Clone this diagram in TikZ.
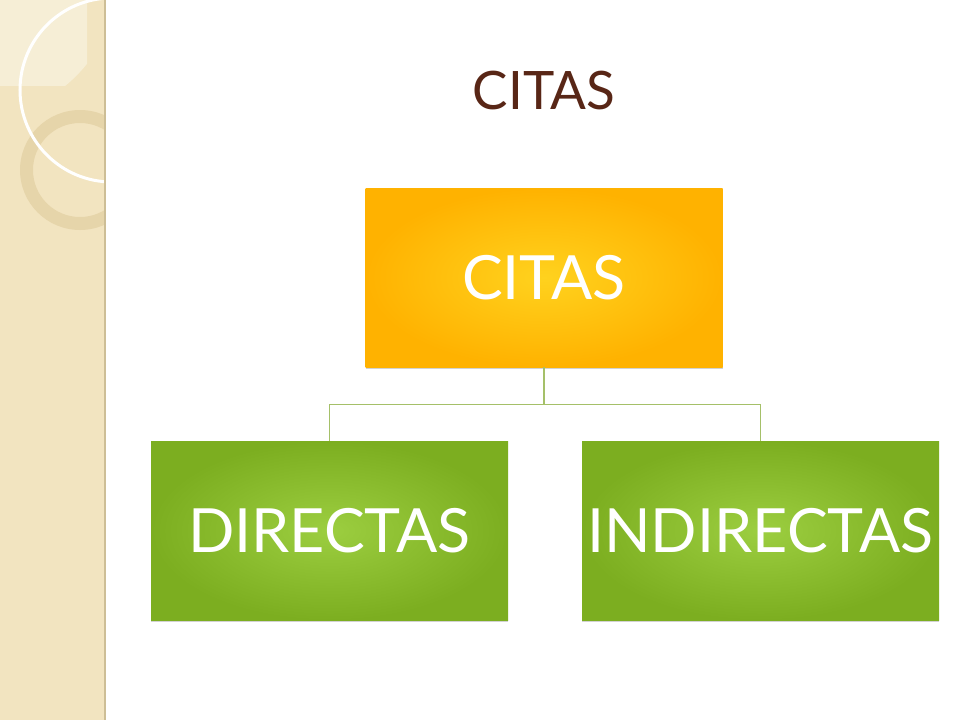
\documentclass[tikz,border=0pt]{standalone}
\usepackage{fontspec}
\setmainfont{Lato}
\usepackage{tikz}
\usetikzlibrary{positioning,calc,shadows,shadings}
\definecolor{sideBeige}{RGB}{242, 228, 192}
\definecolor{sideLight}{RGB}{246, 238, 214}
\definecolor{sideRing}{RGB}{228, 210, 165}
\definecolor{sideEdge}{RGB}{205, 190, 150}
\definecolor{titleBrown}{RGB}{88, 38, 22}
\definecolor{orangeEdge}{RGB}{255, 178, 0}
\definecolor{orangeMid}{RGB}{255, 210, 30}
\definecolor{greenEdge}{RGB}{124, 174, 32}
\definecolor{greenMid}{RGB}{156, 206, 64}
\definecolor{linkGreen}{RGB}{165, 192, 105}

\begin{document}
\begin{tikzpicture}[x=1pt,y=-1pt,
        citabox/.style={minimum width=357pt,minimum height=179pt,inner sep=0pt,
                        text=white,font=\fontsize{61}{64}\selectfont,
                        drop shadow={opacity=0.35,shadow xshift=0pt,shadow yshift=-2pt}},
        link/.style={draw=linkGreen,line width=1.2pt}
    ]
        \useasboundingbox (0,0) rectangle (960,720);
        \fill[white] (0,0) rectangle (960,720);

        % sidebar
        \begin{scope}
            \clip (0,0) rectangle (105,720);
            \fill[sideBeige] (0,0) rectangle (105,720);
            \begin{scope}
                \clip (0,0) rectangle (87,85);
                \fill[sideLight] (-30,-30) circle[radius=150];
            \end{scope}
            \fill[sideRing,even odd rule,opacity=0.8] (80,170) circle[radius=60] (80,170) circle[radius=47];
            \draw[white,line width=3pt] (112,90) circle[radius=92];
        \end{scope}
        \draw[sideEdge,line width=2pt] (105,0) -- (105,720);

        % title
        \node[text=titleBrown,font=\fontsize{53}{56}\selectfont] (title) at (544,91) {CITAS};

        % boxes
        \node[citabox,shading=radial,inner color=orangeMid,outer color=orangeEdge] (citas) at (544,277.5) {CITAS};
        \node[citabox,shading=radial,inner color=greenMid,outer color=greenEdge] (directas) at (329.5,530.5) {DIRECTAS};
        \node[citabox,shading=radial,inner color=greenMid,outer color=greenEdge] (indirectas) at (760.5,530.5) {INDIRECTAS};

        % connectors
        \draw[link] (citas.south) -- ++(0,37) -| (directas.north);
        \draw[link] (citas.south) -- ++(0,37) -| (indirectas.north);
    \end{tikzpicture}
\end{document}
